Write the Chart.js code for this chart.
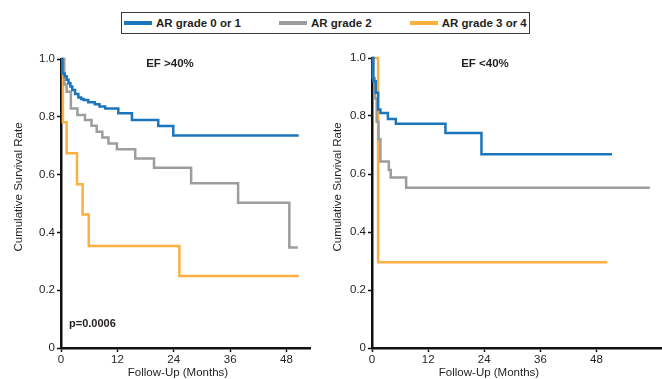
<!DOCTYPE html>
<html>
<head>
<meta charset="utf-8">
<script src="https://cdn.jsdelivr.net/npm/chart.js@4.4.1/dist/chart.umd.min.js"></script>
<style>
  html, body { margin: 0; padding: 0; background: #fff; }
  #wrap { position: relative; width: 662px; height: 379px; overflow: hidden;
          font-family: "Liberation Sans", Arial, sans-serif; }
  canvas { position: absolute; top: 0; }
  #left { left: 0; }
  #right { left: 325px; }
  #legend { position: absolute; left: 121px; top: 12px; width: 409px; height: 22px;
            box-sizing: border-box; border: 1.5px solid #3a3a3a;
            display: flex; align-items: center; padding-left: 2px; }
  .item { display: flex; align-items: center; margin-right: 38px; }
  .swatch { width: 28px; height: 4px; margin-right: 4px; }
  .label { font-weight: bold; font-size: 11.5px; color: #231f20; white-space: nowrap; }
</style>
</head>
<body>
<div id="wrap">
  <div id="legend"></div>
  <canvas id="left" width="325" height="379"></canvas>
  <canvas id="right" width="337" height="379"></canvas>
</div>
<script>
// series
const SERIES = ['AR grade 0 or 1', 'AR grade 2', 'AR grade 3 or 4'];
const COLORS = ['#1b75bc', '#9d9d9d', '#fbb040'];

// ticks
const X_TICKS = [0, 12, 24, 36, 48];
const Y_TICKS = [0, 0.2, 0.4, 0.6, 0.8, 1.0];
const X_TITLE = 'Follow-Up (Months)';
const Y_TITLE = 'Cumulative Survival Rate';

// EF >40% (months / survival)
const GT40_T_01 = [0, 0.3, 0.8, 1.2, 1.6, 2.0, 2.4, 3.0, 3.7, 4.3, 4.8, 5.8, 7.2, 8.2, 9.4, 12.2, 15.1, 20.7, 23.9, 50.6];
const GT40_S_01 = [1.0, 0.95, 0.94, 0.928, 0.916, 0.905, 0.893, 0.879, 0.867, 0.862, 0.858, 0.850, 0.843, 0.836, 0.829, 0.812, 0.789, 0.768, 0.735, 0.735];
const GT40_T_2  = [0, 0.7, 1.2, 2.1, 3.5, 5.1, 6.5, 7.6, 8.8, 10.1, 11.9, 15.8, 19.8, 27.7, 37.7, 48.6, 50.4];
const GT40_S_2  = [1.0, 0.912, 0.887, 0.829, 0.806, 0.789, 0.769, 0.748, 0.728, 0.708, 0.688, 0.656, 0.624, 0.570, 0.503, 0.348, 0.348];
const GT40_T_34 = [0, 0.4, 1.2, 3.4, 4.6, 5.9, 25.2, 50.6];
const GT40_S_34 = [1.0, 0.781, 0.674, 0.567, 0.462, 0.353, 0.249, 0.249];

// EF <40%
const LT40_T_01 = [0, 0.3, 0.8, 1.3, 1.8, 3.4, 5.1, 15.7, 23.4, 51.3];
const LT40_S_01 = [1.0, 0.92, 0.88, 0.822, 0.81, 0.79, 0.773, 0.741, 0.668, 0.668];
const LT40_T_2  = [0, 0.2, 0.6, 1.0, 1.4, 1.8, 3.6, 4.0, 7.3, 59.4];
const LT40_S_2  = [1.0, 0.93, 0.86, 0.78, 0.72, 0.643, 0.614, 0.588, 0.553, 0.553];
const LT40_T_34 = [0, 1.3, 50.3];
const LT40_S_34 = [1.0, 0.296, 0.296];

const FONT = '"Liberation Sans", Arial, sans-serif';
const TEXT = '#231f20';

// html legend with the boxed look of the original
const leg = document.getElementById('legend');
SERIES.forEach((name, i) => {
  const it = document.createElement('div');
  it.className = 'item';
  it.innerHTML = `<span class="swatch" style="background:${COLORS[i]}"></span><span class="label">${name}</span>`;
  leg.appendChild(it);
});

function pts(t, s) { return t.map((x, i) => ({ x: x, y: s[i] })); }

// panel labels + axis titles, placed relative to the chart area
const panelText = {
  id: 'panelText',
  afterDraw(chart, args, opts) {
    const { ctx, chartArea } = chart;
    ctx.save();
    ctx.fillStyle = TEXT;
    ctx.textBaseline = 'middle';
    (opts.items || []).forEach(it => {
      ctx.font = (it.bold ? 'bold ' : '') + it.size + 'px ' + FONT;
      ctx.textAlign = it.align;
      const x = it.ax != null ? it.ax : chartArea.left + it.dx;
      const y = chartArea.top + it.dy;
      if (it.rot) {
        ctx.save();
        ctx.translate(x, y);
        ctx.rotate(-Math.PI / 2);
        ctx.fillText(it.text, 0, 0);
        ctx.restore();
      } else {
        ctx.fillText(it.text, x, y);
      }
    });
    ctx.restore();
  }
};

function makePanel(id, curves, xMax, pad, yWidth, items) {
  const ctx = document.getElementById(id).getContext('2d');
  return new Chart(ctx, {
    type: 'line',
    data: {
      datasets: curves.map((c, i) => ({
        label: SERIES[i],
        data: pts(c[0], c[1]),
        borderColor: COLORS[i],
        backgroundColor: COLORS[i],
        borderWidth: 2.5,
        stepped: 'before',
        pointRadius: 0,
        fill: false,
        clip: false
      }))
    },
    options: {
      responsive: false,
      animation: false,
      devicePixelRatio: 1,
      layout: { padding: pad },
      plugins: {
        legend: { display: false },
        tooltip: { enabled: false },
        panelText: { items: items }
      },
      scales: {
        x: {
          type: 'linear', min: 0, max: xMax,
          afterBuildTicks: s => { s.ticks = X_TICKS.map(v => ({ value: v })); },
          afterFit: s => { s.height = 31; },
          ticks: { color: TEXT, font: { family: FONT, size: 11.5 }, padding: 1, maxRotation: 0, autoSkip: false },
          grid: { drawOnChartArea: false, drawTicks: true, tickLength: 4, tickColor: '#111', tickWidth: 1.5 },
          border: { display: true, color: '#111', width: 2.5 }
        },
        y: {
          type: 'linear', min: 0, max: 1,
          afterBuildTicks: s => { s.ticks = Y_TICKS.map(v => ({ value: v })); },
          afterFit: s => { s.width = yWidth; },
          ticks: { color: TEXT, font: { family: FONT, size: 11.5 }, padding: 2,
                   callback: v => v === 0 ? '0' : v.toFixed(1) },
          grid: { drawOnChartArea: false, drawTicks: true, tickLength: 4, tickColor: '#111', tickWidth: 1.5 },
          border: { display: true, color: '#111', width: 2.5 }
        }
      }
    },
    plugins: [panelText]
  });
}

makePanel('left',
  [[GT40_T_01, GT40_S_01], [GT40_T_2, GT40_S_2], [GT40_T_34, GT40_S_34]],
  53, { left: 11, top: 59, right: 15, bottom: 0 }, 50,
  [{ text: 'EF >40%', dx: 109, dy: 5, size: 11.5, bold: true, align: 'center' },
   { text: 'p=0.0006', dx: 8, dy: 265, size: 11, bold: true, align: 'left' },
   { text: X_TITLE, dx: 117, dy: 314, size: 11.5, align: 'center' },
   { text: Y_TITLE, ax: 19, dy: 128, size: 11.5, align: 'center', rot: true }]);

makePanel('right',
  [[LT40_T_01, LT40_S_01], [LT40_T_2, LT40_S_2], [LT40_T_34, LT40_S_34]],
  62, { left: 6, top: 58, right: 0, bottom: 0 }, 41,
  [{ text: 'EF <40%', dx: 113, dy: 6, size: 11.5, bold: true, align: 'center' },
   { text: X_TITLE, dx: 117, dy: 315, size: 11.5, align: 'center' },
   { text: Y_TITLE, ax: 13, dy: 129, size: 11.5, align: 'center', rot: true }]);
</script>
</body>
</html>
